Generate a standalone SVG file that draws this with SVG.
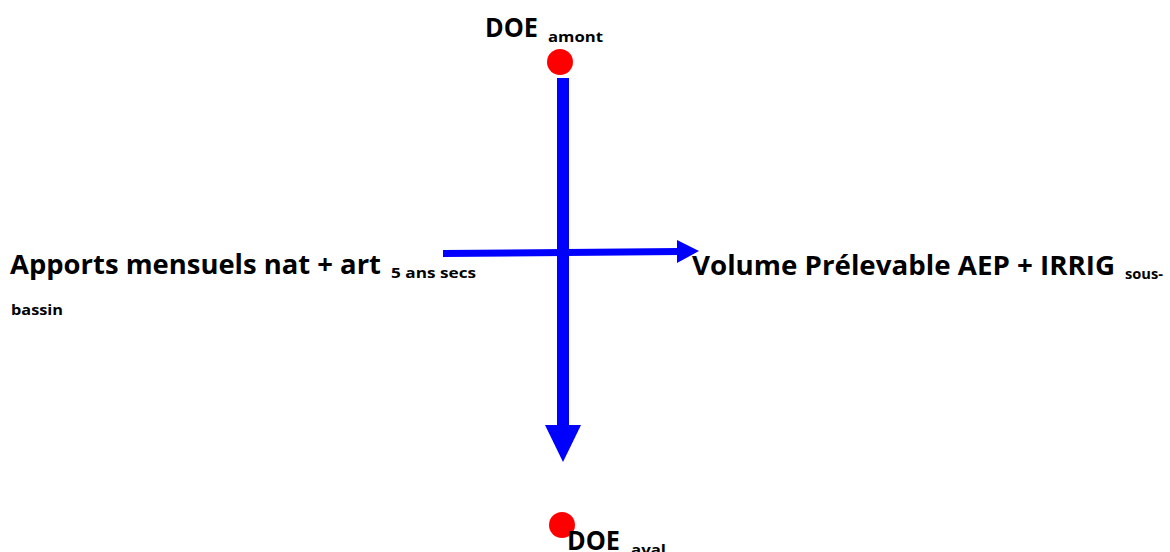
<svg xmlns="http://www.w3.org/2000/svg" width="1170" height="552" viewBox="0 0 1170 552">
<style>
.t{font-family:"Open Sans","DejaVu Sans",sans-serif;font-weight:700;fill:#000;}
.big{font-size:26px;}
.sub{font-size:15px;}
.dot{fill:#ff0000;}
.ln{stroke:#0000ff;fill:none;}
.hd{fill:#0000ff;}
</style>
<rect width="1170" height="552" fill="#ffffff"/>
<g id="connectors">
  <line class="ln" x1="563" y1="78" x2="563" y2="428" stroke-width="12"/>
  <polygon class="hd" points="545,425 581,425 563,462"/>
  <line class="ln" x1="443" y1="253.5" x2="680" y2="251.5" stroke-width="7"/>
  <polygon class="hd" points="677,240 699,251 677,263"/>
</g>
<g id="doe-amont">
  <circle class="dot" cx="560" cy="62" r="13"/>
  <text class="t big" x="485" y="37" textLength="53" lengthAdjust="spacingAndGlyphs">DOE</text>
  <text class="t sub" x="548" y="42" textLength="55" lengthAdjust="spacingAndGlyphs">amont</text>
</g>
<g id="doe-aval">
  <circle class="dot" cx="562" cy="525" r="13"/>
  <text class="t big" x="567" y="550" textLength="53" lengthAdjust="spacingAndGlyphs">DOE</text>
  <text class="t sub" x="631" y="555" textLength="35" lengthAdjust="spacingAndGlyphs">aval</text>
</g>
<g id="apports">
  <text class="t big" x="10" y="274" textLength="371" lengthAdjust="spacingAndGlyphs">Apports mensuels nat + art</text>
  <text class="t sub" x="391" y="278" textLength="85" lengthAdjust="spacingAndGlyphs">5 ans secs</text>
  <text class="t sub" x="11" y="315" textLength="52" lengthAdjust="spacingAndGlyphs">bassin</text>
</g>
<g id="volume">
  <text class="t big" x="692" y="275" textLength="423" lengthAdjust="spacingAndGlyphs">Volume Prélevable AEP + IRRIG</text>
  <text class="t sub" x="1125" y="279" textLength="38" lengthAdjust="spacingAndGlyphs">sous-</text>
</g>
</svg>
